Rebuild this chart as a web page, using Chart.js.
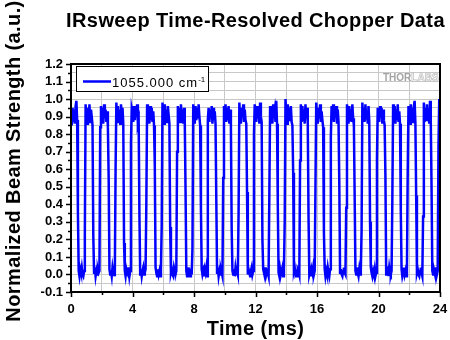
<!DOCTYPE html>
<html>
<head>
<meta charset="utf-8">
<script src="https://cdn.jsdelivr.net/npm/chart.js@4.4.1/dist/chart.umd.min.js"></script>
<style>
  html, body { margin: 0; padding: 0; background: #fff; }
  canvas { display: block; }
</style>
</head>
<body>
<canvas id="chopperChart" width="450" height="340"></canvas>
<script>
// chopper trace, one row per 1 ms chopper cycle, sampled every 0.05 ms
const sampleStep = 0.05;
const beamStrength = [
  0.90,0.85,0.95,0.87,0.94,0.86,0.96,0.99,0.88, 0.35, 0.02,-0.01,0.03,0.01,0.04,0.00,-0.01,0.02, 0.22, 0.97,
  0.91,0.86,0.95,0.89,0.97,0.87,0.94,0.90,0.85, 0.22, 0.01,0.04,-0.01,0.02,0.00,0.03,0.01,0.02, 0.84, 0.96,
  0.88,0.95,0.86,0.97,0.90,0.94,0.87,0.93,0.84, 0.55, 0.03,0.00,0.02,-0.01,0.04,0.01,0.02,-0.01, 0.60, 0.98,
  0.87,0.96,0.89,0.94,0.86,0.97,0.91,0.95,0.86, 0.18, 0.02,-0.01,0.03,0.01,0.00,0.04,-0.01,0.02, 0.75, 0.95,
  0.93,0.87,0.96,0.88,0.95,0.90,0.97,0.86,0.88, 0.34, 0.00,0.03,-0.01,0.02,0.04,0.00,0.01,0.03, 0.40, 0.97,
  0.89,0.94,0.86,0.96,0.88,0.95,0.87,0.93,0.85, 0.62, 0.04,0.01,-0.01,0.03,0.00,0.02,-0.01,0.03, 0.28, 0.98,
  0.90,0.86,0.97,0.89,0.94,0.87,0.96,0.91,0.86, 0.27, 0.01,0.03,0.00,-0.01,0.04,0.02,0.00,0.02, 0.70, 0.96,
  0.88,0.95,0.87,0.97,0.90,0.94,0.86,0.95,0.87, 0.48, 0.02,-0.01,0.04,0.01,0.02,-0.01,0.03,0.00, 0.15, 0.97,
  0.92,0.86,0.96,0.88,0.95,0.89,0.97,0.90,0.85, 0.38, 0.03,0.00,0.02,-0.01,0.03,0.01,0.04,-0.01, 0.88, 0.95,
  0.87,0.94,0.89,0.96,0.86,0.95,0.88,0.93,0.86, 0.43, 0.01,0.04,-0.01,0.02,0.00,0.03,0.01,-0.01, 0.55, 0.96,
  0.90,0.97,0.87,0.95,0.88,0.96,0.86,0.94,0.85, 0.26, 0.02,0.00,0.03,-0.01,0.04,0.01,0.02,0.00, 0.35, 0.98,
  0.89,0.86,0.95,0.90,0.97,0.87,0.94,0.88,0.86, 0.47, 0.00,0.03,0.01,-0.01,0.02,0.04,0.00,0.02, 0.80, 0.97,
  0.93,0.87,0.96,0.89,0.95,0.86,0.98,0.90,0.87, 0.20, 0.03,0.01,-0.01,0.04,0.00,0.02,0.01,-0.01, 0.45, 0.96,
  0.88,0.95,0.86,0.97,0.91,0.94,0.87,0.99,0.86, 0.40, 0.01,-0.01,0.03,0.00,0.02,0.04,-0.01,0.03, 0.30, 1.00,
  0.92,0.86,0.97,0.90,0.95,0.88,0.96,0.87,0.85, 0.58, 0.02,0.04,0.00,0.01,-0.01,0.03,0.02,0.00, 0.65, 0.97,
  0.87,0.96,0.88,0.94,0.86,0.97,0.90,0.95,0.86, 0.32, 0.00,0.02,-0.01,0.03,0.01,0.04,0.00,0.02, 0.50, 0.98,
  0.90,0.86,0.95,0.89,0.97,0.87,0.93,0.88,0.84, 0.24, 0.03,-0.01,0.02,0.00,0.04,0.01,-0.01,0.03, 0.78, 0.96,
  0.89,0.97,0.87,0.95,0.90,0.96,0.86,0.94,0.87, 0.52, 0.01,0.03,0.00,-0.01,0.02,0.04,0.01,0.00, 0.38, 0.97,
  0.91,0.86,0.96,0.88,0.94,0.87,0.97,0.89,0.85, 0.44, 0.02,0.00,0.04,0.01,-0.01,0.03,0.00,0.02, 0.25, 0.98,
  0.88,0.95,0.87,0.97,0.89,0.93,0.86,0.96,0.87, 0.30, 0.04,0.01,-0.01,0.02,0.00,0.03,-0.01,0.01, 0.66, 0.95,
  0.92,0.87,0.96,0.90,0.95,0.86,0.94,0.88,0.85, 0.56, 0.00,0.02,0.03,-0.01,0.04,0.01,0.00,0.02, 0.42, 0.97,
  0.89,0.96,0.86,0.94,0.88,0.97,0.87,0.93,0.86, 0.36, 0.03,-0.01,0.01,0.04,0.00,0.02,-0.01,0.03, 0.58, 0.96,
  0.90,0.86,0.97,0.89,0.95,0.87,0.96,0.99,0.86, 0.45, 0.01,0.03,0.00,-0.01,0.02,0.04,0.01,-0.01, 0.33, 0.98,
  0.87,0.95,0.88,0.97,0.90,0.94,0.86,0.99,0.87, 0.50, 0.02,0.00,0.03,0.01,-0.01,0.04,0.00,0.02, 0.72, 1.00,
  0.87
];

const xTicks = [0, 2, 4, 6, 8, 10, 12, 14, 16, 18, 20, 22, 24];
const xLabelled = [0, 4, 8, 12, 16, 20, 24];
const yTicks = [-0.1, -0.05, 0, 0.05, 0.1, 0.15, 0.2, 0.25, 0.3, 0.35, 0.4, 0.45, 0.5, 0.55,
                0.6, 0.65, 0.7, 0.75, 0.8, 0.85, 0.9, 0.95, 1.0, 1.05, 1.1, 1.15, 1.2];
const yLabelled = [-0.1, 0, 0.1, 0.2, 0.3, 0.4, 0.5, 0.6, 0.7, 0.8, 0.9, 1.0, 1.1, 1.2];

const seriesName = '1055.000 cm-1';
const chartTitle = 'IRsweep Time-Resolved Chopper Data';
const xTitle = 'Time (ms)';
const yTitle = 'Normalized Beam Strength (a.u.)';

const FONT = '"Liberation Sans", Arial, sans-serif';
const BLUE = '#0000ff';

const isLabelled = (list, v) => list.some(t => Math.abs(t - v) < 1e-6);

const points = beamStrength.map((v, i) => ({ x: i * sampleStep, y: v }));

// frame, tick marks, titles, legend box and logo
const decor = {
  id: 'decor',
  beforeDraw(chart) {
    const ctx = chart.ctx;
    ctx.save();
    ctx.fillStyle = '#fff';
    ctx.fillRect(0, 0, chart.width, chart.height);
    ctx.restore();
  },
  afterDraw(chart) {
    const ctx = chart.ctx;
    const { left, right, top, bottom } = chart.chartArea;
    const xs = chart.scales.x, ys = chart.scales.y;
    ctx.save();

    // logo
    ctx.font = 'bold 10px ' + FONT;
    ctx.textBaseline = 'alphabetic';
    ctx.fillStyle = '#a4a4a4';
    ctx.fillText('THOR', 383, 81);
    const w = ctx.measureText('THOR').width;
    ctx.strokeStyle = '#bdbdbd';
    ctx.lineWidth = 0.7;
    ctx.strokeText('LABS', 383 + w, 81);

    // plot frame
    ctx.strokeStyle = '#000';
    ctx.lineWidth = 2;
    ctx.strokeRect(left, top, right - left, bottom - top);

    // outward tick marks
    ctx.lineWidth = 1.5;
    ctx.beginPath();
    xTicks.forEach(v => {
      const px = Math.round(xs.getPixelForValue(v)) + 0.5;
      const len = isLabelled(xLabelled, v) ? 5 : 3;
      ctx.moveTo(px, bottom);
      ctx.lineTo(px, bottom + len);
    });
    yTicks.forEach(v => {
      const py = Math.round(ys.getPixelForValue(v)) + 0.5;
      const len = isLabelled(yLabelled, v) ? 5 : 3;
      ctx.moveTo(left, py);
      ctx.lineTo(left - len, py);
    });
    ctx.stroke();

    // legend
    ctx.fillStyle = '#fff';
    ctx.fillRect(76.5, 66.5, 132, 25);
    ctx.strokeStyle = '#000';
    ctx.lineWidth = 1;
    ctx.strokeRect(76.5, 66.5, 132, 25);
    ctx.strokeStyle = BLUE;
    ctx.lineWidth = 2.5;
    ctx.beginPath();
    ctx.moveTo(83, 81.5);
    ctx.lineTo(111, 81.5);
    ctx.stroke();
    ctx.fillStyle = '#000';
    ctx.font = '13px ' + FONT;
    ctx.letterSpacing = '1px';
    ctx.fillText('1055.000 cm', 112, 86.5);
    const tw = ctx.measureText('1055.000 cm').width;
    ctx.font = '8px ' + FONT;
    ctx.letterSpacing = '0px';
    ctx.fillText('-1', 112 + tw, 82);

    // titles
    ctx.font = 'bold 20px ' + FONT;
    ctx.letterSpacing = '0.4px';
    ctx.textAlign = 'center';
    ctx.fillText(chartTitle, (left + right) / 2, 27);
    ctx.fillText(xTitle, (left + right) / 2, 335);
    ctx.translate(20, 161);
    ctx.rotate(-Math.PI / 2);
    ctx.fillText(yTitle, 0, 0);

    ctx.restore();
  }
};

new Chart(document.getElementById('chopperChart'), {
  type: 'line',
  data: {
    datasets: [{
      label: seriesName,
      data: points,
      borderColor: BLUE,
      borderWidth: 2.5,
      pointRadius: 0,
      tension: 0,
      fill: false
    }]
  },
  options: {
    responsive: false,
    animation: false,
    events: [],
    layout: { padding: { top: 64, right: 10, left: 0, bottom: 0 } },
    plugins: {
      legend: { display: false },
      title: { display: false },
      tooltip: { enabled: false }
    },
    scales: {
      x: {
        type: 'linear',
        min: 0,
        max: 24,
        afterBuildTicks: scale => { scale.ticks = xTicks.map(v => ({ value: v })); },
        afterFit: scale => {
          scale.height = 48;
          scale.paddingLeft = 0;
          scale.paddingRight = 0;
        },
        grid: { color: '#c8c8c8', lineWidth: 1, drawTicks: false },
        border: { display: false },
        ticks: {
          autoSkip: false,
          maxRotation: 0,
          padding: 10,
          color: '#000',
          font: { family: FONT, size: 13, weight: 'bold' },
          callback: v => isLabelled(xLabelled, v) ? String(v) : ''
        }
      },
      y: {
        min: -0.1,
        max: 1.2,
        afterBuildTicks: scale => { scale.ticks = yTicks.map(v => ({ value: v })); },
        afterFit: scale => { scale.width = 71; },
        grid: { color: '#c8c8c8', lineWidth: 1, drawTicks: false },
        border: { display: false },
        ticks: {
          autoSkip: false,
          padding: 8,
          color: '#000',
          font: { family: FONT, size: 13, weight: 'bold' },
          callback: v => isLabelled(yLabelled, v) ? v.toFixed(1) : ''
        }
      }
    }
  },
  plugins: [decor]
});
</script>
</body>
</html>
